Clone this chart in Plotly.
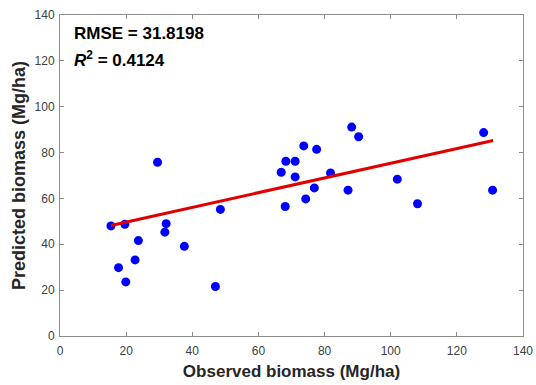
import plotly.graph_objects as go

observed = [15.4, 19.6, 29.5, 17.7, 19.9, 22.7, 23.7, 32.1, 31.7, 37.6, 47.0, 48.5,
            66.9, 68.3, 71.1, 71.1, 73.7, 68.1, 74.3, 77.6, 76.9, 81.8, 87.1, 88.2,
            90.3, 102.0, 108.1, 128.1, 130.8]
predicted = [48.0, 48.7, 75.8, 29.8, 23.6, 33.2, 41.6, 49.0, 45.3, 39.1, 21.6, 55.2,
             71.4, 76.2, 76.2, 69.4, 82.9, 56.5, 59.8, 81.4, 64.6, 71.1, 63.6, 91.1,
             86.9, 68.4, 57.7, 88.7, 63.6]
fit_x = [15.4, 131.0]
fit_y = [48.2, 85.3]
x_ticks = [0, 20, 40, 60, 80, 100, 120, 140]
y_ticks = [0, 20, 40, 60, 80, 100, 120, 140]
rmse_text = "RMSE = 31.8198"
r2_text = "<i>R</i><sup>2</sup> = 0.4124"

FONT = "Arial, Liberation Sans, sans-serif"

fig = go.Figure()
fig.add_trace(go.Scatter(x=observed, y=predicted, mode="markers",
                         marker=dict(color="#0000FF", size=9, line=dict(width=0)),
                         showlegend=False, cliponaxis=False))
fig.add_trace(go.Scatter(x=fit_x, y=fit_y, mode="lines",
                         line=dict(color="#E00000", width=3), showlegend=False))

axis_common = dict(showgrid=False, zeroline=False, showline=True, mirror="ticks",
                   linecolor="#8c8c8c", linewidth=1, ticks="inside", ticklen=4,
                   tickcolor="#8c8c8c", automargin=False,
                   tickfont=dict(family=FONT, size=12, color="#404040"))

fig.update_xaxes(range=[0, 140], tickvals=x_ticks, ticklabelstandoff=4,
                 title=dict(text="<b>Observed biomass (Mg/ha)</b>",
                            font=dict(family=FONT, size=17, color="#262626"), standoff=7),
                 **axis_common)
fig.update_yaxes(range=[0, 140], tickvals=y_ticks, ticklabelstandoff=2,
                 title=dict(text="<b>Predicted biomass (Mg/ha)</b>",
                            font=dict(family=FONT, size=18, color="#262626"), standoff=4),
                 **axis_common)

fig.add_annotation(x=0.025, y=0.941, xref="paper", yref="paper", xanchor="left",
                   yanchor="middle", text="<b>" + rmse_text + "</b>", showarrow=False,
                   font=dict(family=FONT, size=17, color="#000000"))
fig.add_annotation(x=0.025, y=0.862, xref="paper", yref="paper", xanchor="left",
                   yanchor="middle", text="<b>" + r2_text + "</b>", showarrow=False,
                   font=dict(family=FONT, size=17, color="#000000"))

fig.update_layout(width=536, height=385, margin=dict(l=60, r=13, t=15, b=49),
                  plot_bgcolor="white", paper_bgcolor="white")

fig.write_html("out.html")
